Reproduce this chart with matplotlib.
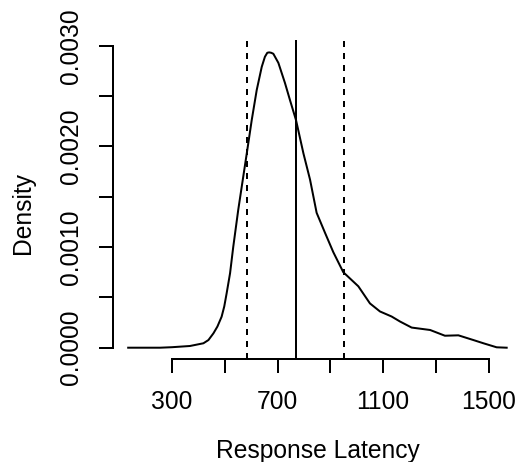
import matplotlib
matplotlib.use("Agg")
import matplotlib.pyplot as plt
import numpy as np

# density curve
latency = [134, 255, 300, 368, 419, 438, 457, 472, 488, 498, 507, 520, 532,
           551, 570, 585, 602, 621, 640, 652, 661, 668, 676, 684, 703, 728,
           747, 770, 798, 823, 848, 880, 911, 949, 1006, 1050, 1088, 1132,
           1164, 1208, 1278, 1334, 1385, 1442, 1480, 1530, 1568]
density = [0.0, 0.0, 0.000005, 0.000017, 0.000044, 0.000076, 0.000143,
           0.00021, 0.000308, 0.00041, 0.00054, 0.00074, 0.001, 0.00137,
           0.0017, 0.00196, 0.00226, 0.00256, 0.00279, 0.00289, 0.00293,
           0.002934, 0.00293, 0.00292, 0.00283, 0.00263, 0.00246, 0.00226,
           0.00193, 0.00167, 0.00134, 0.00114, 0.00095, 0.00075, 0.00061,
           0.00044, 0.00036, 0.00031, 0.00026, 0.0002, 0.000176, 0.000119,
           0.000123, 0.000076, 0.000044, 0.000004, 0.0]

mean_rt = 768
sd_rt = 184

x_ticks = [300, 500, 700, 900, 1100, 1300, 1500]
x_labels = ["300", "", "700", "", "1100", "", "1500"]
y_ticks = [0.0, 0.0005, 0.001, 0.0015, 0.002, 0.0025, 0.003]
y_labels = ["0.0000", "", "0.0010", "", "0.0020", "", "0.0030"]

plt.rcParams["font.family"] = ["Liberation Sans", "DejaVu Sans"]
plt.rcParams["font.size"] = 12.3

W, H, DPI = 516, 462, 144
fig = plt.figure(figsize=(W / DPI, H / DPI), dpi=DPI)

# plot region in pixels (R style, right side runs past the picture)
left, right, top, bottom = 113.3, 522.9, 39.9, 359.4
ax = fig.add_axes([left / W, 1 - bottom / H, (right - left) / W, (bottom - top) / H])

ax.plot(latency, density, color="black", lw=1.0)
ax.axvline(mean_rt, color="black", lw=1.0)
for v in (mean_rt - sd_rt, mean_rt + sd_rt):
    ax.axvline(v, color="black", lw=1.0, linestyle=(0, (3, 3)))

ax.set_xlim(77.6, 1629.5)
ax.set_ylim(-0.0001162, 0.003058)

for s in ("top", "right"):
    ax.spines[s].set_visible(False)
ax.spines["left"].set_bounds(0, 0.003)
ax.spines["bottom"].set_bounds(300, 1500)
for s in ("left", "bottom"):
    ax.spines[s].set_linewidth(1.0)

ax.set_xticks(x_ticks)
ax.set_xticklabels(x_labels)
ax.set_yticks(y_ticks)
ax.set_yticklabels(y_labels, rotation=90, va="center")
ax.tick_params(direction="out", length=7.2, width=1.0, labelsize=12.3)
ax.tick_params(axis="x", pad=8)
ax.tick_params(axis="y", pad=8)

fig.text(317.5 / W, 1 - 458.3 / H, "Response Latency", ha="center",
         va="baseline", fontsize=12.3)
fig.text(23.3 / W, 1 - 213.3 / H, "Density", ha="center", va="center",
         rotation=90, fontsize=12.3)

fig.savefig("out.png", dpi=DPI)
